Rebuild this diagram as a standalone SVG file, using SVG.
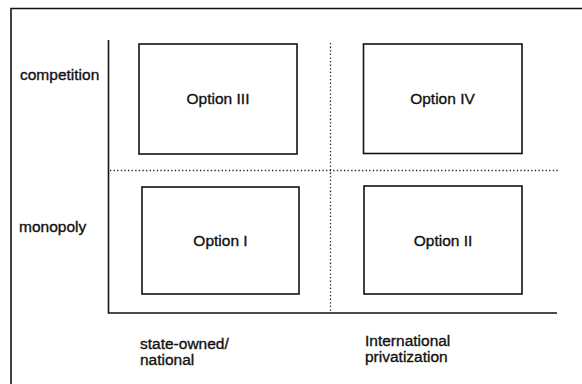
<svg xmlns="http://www.w3.org/2000/svg" width="582" height="384" viewBox="0 0 582 384">
<style>
.t{font-family:"Liberation Sans",Arial,sans-serif;font-size:15.5px;fill:#111;stroke:#111;stroke-width:0.35}
.c{text-anchor:middle}
.box{fill:none;stroke:#111;stroke-width:1.6}
.ax{fill:none;stroke:#111;stroke-width:1.6}
.dot{fill:none;stroke:#222;stroke-width:1.3;stroke-dasharray:1.3 2.3}
</style>
<rect width="582" height="384" fill="#fff"/>
<g id="frame">
<path class="ax" d="M11,384 V8.5 H582"/>
</g>
<g id="connectors">
<path class="ax" d="M108.5,40 V313 H557"/>
<path class="dot" d="M110,170.5 H558"/>
<path class="dot" d="M330.5,43 V312"/>
</g>
<g id="label-competition"><text class="t" x="20" y="80">competition</text></g>
<g id="label-monopoly"><text class="t" x="19" y="232">monopoly</text></g>
<g id="label-state"><text class="t" x="140" y="349">state-owned/</text><text class="t" x="140" y="365">national</text></g>
<g id="label-intl"><text class="t" x="365" y="346">International</text><text class="t" x="365" y="362">privatization</text></g>
<g id="option3"><rect class="box" x="139" y="44" width="158" height="110"/><text class="t c" x="218" y="104">Option III</text></g>
<g id="option4"><rect class="box" x="363.5" y="44" width="158.5" height="109.5"/><text class="t c" x="442.5" y="104">Option IV</text></g>
<g id="option1"><rect class="box" x="142" y="187" width="157" height="107"/><text class="t c" x="220.5" y="246">Option I</text></g>
<g id="option2"><rect class="box" x="364" y="186" width="158" height="108"/><text class="t c" x="443" y="246">Option II</text></g>
</svg>
